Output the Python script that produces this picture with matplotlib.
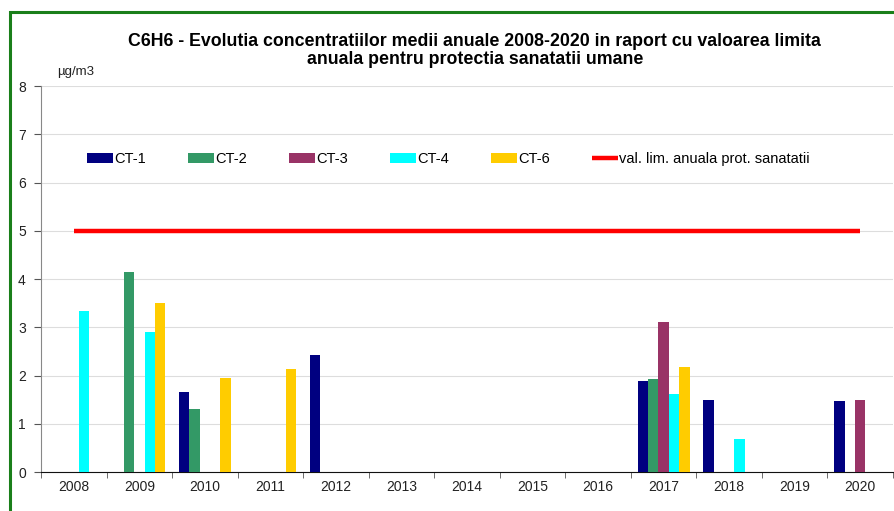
import numpy as np
import matplotlib
matplotlib.use("Agg")
import matplotlib.pyplot as plt
from matplotlib.patches import Rectangle

plt.rcParams['font.family'] = ['Liberation Sans', 'DejaVu Sans']

years = ['2008', '2009', '2010', '2011', '2012', '2013', '2014',
         '2015', '2016', '2017', '2018', '2019', '2020']
nan = np.nan
ct1 = [nan, nan, 1.66, nan, 2.42, nan, nan, nan, nan, 1.88, 1.50, nan, 1.48]
ct2 = [nan, 4.15, 1.30, nan, nan, nan, nan, nan, nan, 1.92, nan, nan, nan]
ct3 = [nan, nan, nan, nan, nan, nan, nan, nan, nan, 3.10, nan, nan, 1.50]
ct4 = [3.34, 2.90, nan, nan, nan, nan, nan, nan, nan, 1.62, 0.68, nan, nan]
ct6 = [nan, 3.50, 1.95, 2.14, nan, nan, nan, nan, nan, 2.17, nan, nan, nan]
limita = [5] * len(years)

series = [('CT-1', ct1, '#000080'), ('CT-2', ct2, '#339966'),
          ('CT-3', ct3, '#993366'), ('CT-4', ct4, '#00ffff'),
          ('CT-6', ct6, '#ffcc00')]

fig = plt.figure(figsize=(8.94, 5.11), dpi=100)
ax = fig.add_axes([0.0459, 0.0763, 0.953, 0.7554])

x = np.arange(len(years))
w = 0.158
handles = []
for i, (name, vals, col) in enumerate(series):
    b = ax.bar(x + (i - 2) * w, vals, width=w, color=col, label=name, zorder=3)
    handles.append(b)
ln, = ax.plot(x, limita, color='#ff0000', lw=3.2, zorder=4,
              label='val. lim. anuala prot. sanatatii', solid_capstyle='butt')
handles.append(ln)

ax.set_xlim(-0.5, len(years) - 0.5)
ax.set_ylim(0, 8)
ax.set_yticks(range(0, 9))
ax.set_xticks(x)
ax.set_xticklabels(years)
ax.set_xticks(np.arange(-0.5, len(years), 1), minor=True)
ax.tick_params(axis='x', which='major', length=0, labelsize=10,
               labelcolor='#222222', pad=6)
ax.tick_params(axis='x', which='minor', length=4, color='#555555')
ax.tick_params(axis='y', length=5, labelsize=10, labelcolor='#222222',
               color='#555555', pad=6)
ax.grid(axis='y', color='#dddddd', lw=0.8, zorder=0)
for s in ['top', 'right']:
    ax.spines[s].set_visible(False)
ax.spines['left'].set_color('#888888')
ax.spines['bottom'].set_color('#111111')

ax.legend(handles=handles, loc='center left', bbox_to_anchor=(0.054, 0.81),
          ncol=6, frameon=False, fontsize=10.5, handlelength=1.75,
          handleheight=0.7, handletextpad=0.12, columnspacing=2.88,
          borderpad=0, borderaxespad=0)

fig.text(0.531, 1 - 50.5 / 511,
         'C6H6 - Evolutia concentratiilor medii anuale 2008-2020 in raport cu valoarea limita\n'
         'anuala pentru protectia sanatatii umane',
         ha='center', va='center', fontsize=12.8, fontweight='bold',
         linespacing=1.15)
fig.text(57 / 894, 1 - 72 / 511, 'µg/m3', fontsize=9.5, va='center',
         color='#222222')

# green frame around the chart
fig.patches.append(Rectangle((9.5 / 894, -0.1), 1.2, 1.1 - 12 / 511,
                             transform=fig.transFigure, fill=False,
                             edgecolor='#1a7f1a', lw=2.2))

fig.savefig('out.png', dpi=100)
